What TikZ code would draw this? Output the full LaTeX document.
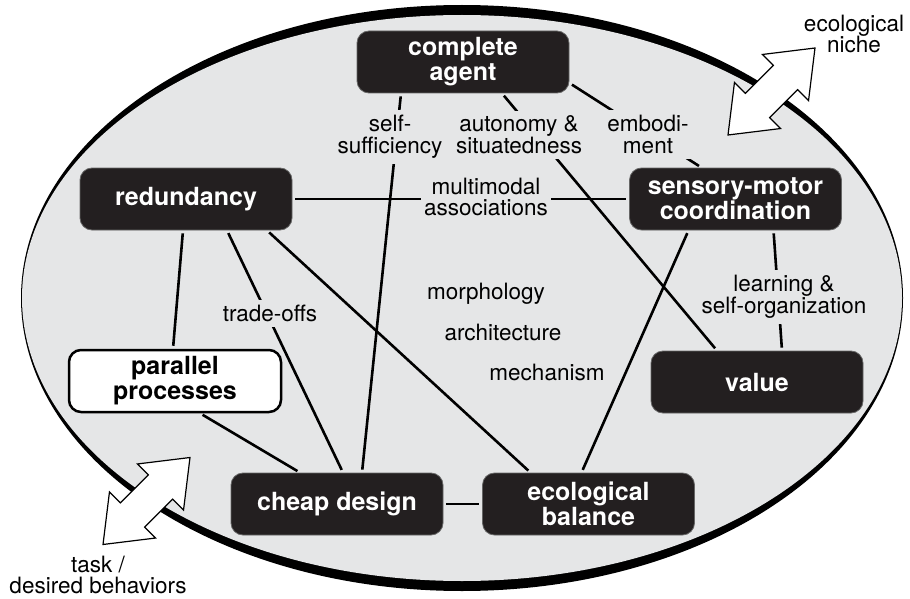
\documentclass[tikz,border=0pt]{standalone}
\usepackage{fontspec}
\setmainfont{TeX Gyre Heros}
\usetikzlibrary{shapes.arrows}
\definecolor{ovalgray}{RGB}{229,230,231}
\definecolor{boxblack}{RGB}{35,31,32}

\begin{document}
\begin{tikzpicture}[x=1pt,y=-1pt,
  box/.style={rectangle, rounded corners=12pt, fill=boxblack, draw=black!60,
    line width=0.8pt, text=white, minimum width=212pt, minimum height=62pt,
    align=center, inner sep=2pt, font=\fontsize{25}{25}\selectfont\bfseries},
  openbox/.style={box, fill=white, draw=black, line width=2.5pt, text=black},
  lbl/.style={fill=ovalgray, align=center, inner xsep=3pt, inner ysep=5pt,
    font=\fontsize{22.5}{21.7}\selectfont},
  txt/.style={align=center, inner sep=0pt, font=\fontsize{22.5}{21.7}\selectfont},
  link/.style={line width=2.6pt, shorten <=3pt, shorten >=3pt},
  bigarrow/.style={double arrow, draw, fill=white, line width=1.2pt, rotate=45,
    inner sep=16.5pt, minimum height=123pt, minimum width=64pt,
    double arrow head extend=15.5pt, double arrow tip angle=76}]
\useasboundingbox (0,0) rectangle (910,599);

% the oval: thick rim at top and bottom, thin at the sides
\fill[black] (462,298) ellipse [x radius=441, y radius=293];
\fill[ovalgray] (462,298) ellipse [x radius=440, y radius=283];

% the seven design principles
\node[box] (agent) at (463,62) {complete\\agent};
\node[box] (redundancy) at (186,199) {redundancy};
\node[box] (sensory) at (735.5,199) {sensory-motor\\coordination};
\node[openbox] (parallel) at (175,381) {parallel\\processes};
\node[box] (value) at (757,382) {value};
\node[box] (cheap) at (337,504) {cheap design};
\node[box] (balance) at (588.5,504) {ecological\\balance};

% links between them
\draw[link] ([xshift=-62pt]agent.south) -- ([xshift=25pt]cheap.north);
\draw[link] ([xshift=39pt]agent.south) -- ([xshift=-40pt]value.north);
\draw[link] ([yshift=-21pt]agent.east) -- ([xshift=-34pt]sensory.north);
\draw[link] (redundancy.east) -- (sensory.west);
\draw[link] ([xshift=-3pt]redundancy.south) -- ([xshift=-2pt]parallel.north);
\draw[link] ([xshift=41pt]redundancy.south) -- ([xshift=6pt]cheap.north);
\draw[link] ([xshift=81pt]redundancy.south) -- ([xshift=-58pt]balance.north);
\draw[link] ([xshift=25pt]parallel.south) -- ([xshift=-37pt]cheap.north);
\draw[link] (cheap.east) -- (balance.west);
\draw[link] ([xshift=-47pt]sensory.south) -- ([xshift=-7pt]balance.north);
\draw[link] ([xshift=38pt]sensory.south) -- ([xshift=25pt]value.north);

% labels sitting on the links
\node[lbl] (selfsuff) at (390,137) {self-\\sufficiency};
\node[lbl] (autonomy) at (519,135) {autonomy \&\\situatedness};
\node[lbl] (embodiment) at (648,134.5) {embodi-\\ment};
\node[lbl] (multimodal) at (486,197) {multimodal\\associations};
\node[lbl] (tradeoffs) at (270,313.5) {trade-offs};
\node[lbl] (learning) at (784,297) {learning \&\\self-organization};

\node[txt] (morphology) at (486,294) {morphology};
\node[txt] (architecture) at (503,332) {architecture};
\node[txt] (mechanism) at (547,372) {mechanism};

% environment arrows
\node[bigarrow] (nichearrow) at (771.5,91.5) {};
\node[bigarrow] (taskarrow) at (146.5,501) {};
\node[txt] (niche) at (854,34) {ecological\\niche};
\node[txt] (task) at (98,575) {task /\\desired behaviors};
\end{tikzpicture}
\end{document}
